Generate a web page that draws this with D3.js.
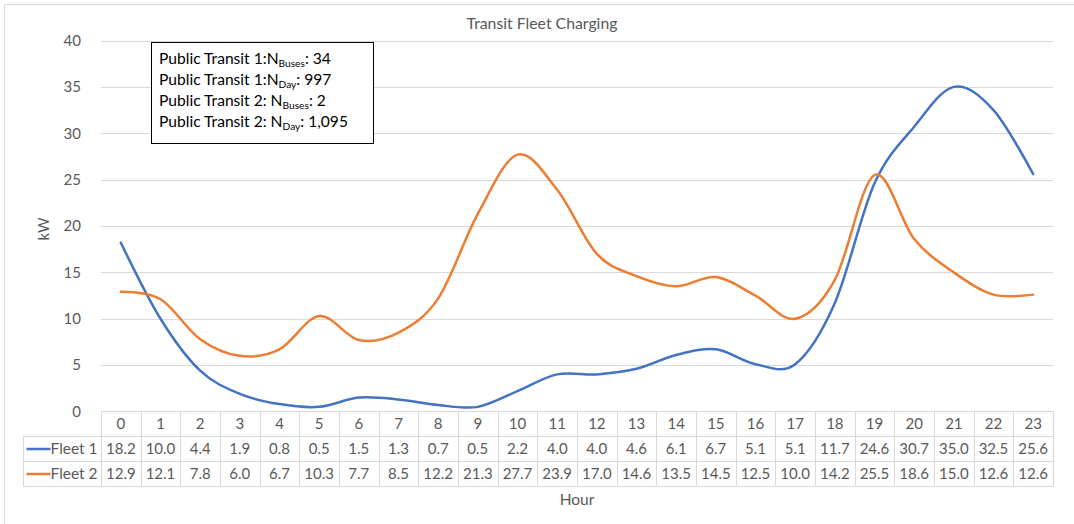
<!DOCTYPE html>
<html>
<head>
<meta charset="utf-8">
<script src="https://cdn.jsdelivr.net/npm/d3@7"></script>
<style>
  html, body { margin: 0; padding: 0; background: #fff; }
  svg text { font-family: Lato, "Open Sans", sans-serif; }
</style>
</head>
<body>
<svg id="chart" width="1074" height="524"></svg>
<script>
// Hourly charging demand (kW) for two transit fleets
const hours = ["0","1","2","3","4","5","6","7","8","9","10","11","12","13","14","15","16","17","18","19","20","21","22","23"];
const fleet1 = [18.2,10.0,4.4,1.9,0.8,0.5,1.5,1.3,0.7,0.5,2.2,4.0,4.0,4.6,6.1,6.7,5.1,5.1,11.7,24.6,30.7,35.0,32.5,25.6];
const fleet2 = [12.9,12.1,7.8,6.0,6.7,10.3,7.7,8.5,12.2,21.3,27.7,23.9,17.0,14.6,13.5,14.5,12.5,10.0,14.2,25.5,18.6,15.0,12.6,12.6];
const seriesNames = ["Fleet 1", "Fleet 2"];
const seriesColors = ["#4472C4", "#ED7D31"];
const yTicks = [0,5,10,15,20,25,30,35,40];

const series = [
  { name: seriesNames[0], values: fleet1, color: seriesColors[0] },
  { name: seriesNames[1], values: fleet2, color: seriesColors[1] }
];

const svg = d3.select("#chart");
const textColor = "#595959";
const gridColor = "#d9d9d9";

// Chart frame
svg.append("rect")
  .attr("x", 4.5).attr("y", 4.5)
  .attr("width", 1080).attr("height", 540)
  .attr("fill", "#fff").attr("stroke", gridColor).attr("stroke-width", 1);

const plot = { left: 101, right: 1053, top: 40.5, bottom: 411.5 };

const x = d3.scaleBand().domain(hours).range([plot.left, plot.right]).paddingInner(0).paddingOuter(0);
const y = d3.scaleLinear().domain([0, 40]).range([plot.bottom, plot.top]);
const cx = h => x(h) + x.bandwidth() / 2;

// Title
svg.append("text")
  .attr("x", 542).attr("y", 29)
  .attr("text-anchor", "middle")
  .attr("font-size", 15.8)
  .attr("fill", textColor)
  .text("Transit Fleet Charging");

// Horizontal gridlines
svg.append("g")
  .selectAll("line")
  .data(yTicks.filter(t => t > 0))
  .join("line")
  .attr("x1", plot.left).attr("x2", plot.right)
  .attr("y1", d => Math.round(y(d)) + 0.5).attr("y2", d => Math.round(y(d)) + 0.5)
  .attr("stroke", gridColor).attr("stroke-width", 1);

// Y axis labels
const yAxis = d3.axisLeft(y).tickValues(yTicks).tickSize(0).tickPadding(0);
const yg = svg.append("g")
  .attr("transform", `translate(${plot.left - 20},0)`)
  .call(yAxis);
yg.select(".domain").remove();
yg.selectAll("text")
  .attr("font-size", 15)
  .attr("font-family", "Lato, sans-serif")
  .attr("fill", textColor);

// Y axis title
svg.append("text")
  .attr("transform", "translate(49,229) rotate(-90)")
  .attr("text-anchor", "middle")
  .attr("font-size", 15)
  .attr("fill", textColor)
  .text("kW");

// Smoothed series lines
const line = d3.line()
  .x((d, i) => cx(hours[i]))
  .y(d => y(d))
  .curve(d3.curveCatmullRom.alpha(0));

svg.append("g")
  .selectAll("path")
  .data(series)
  .join("path")
  .attr("d", d => line(d.values))
  .attr("fill", "none")
  .attr("stroke", d => d.color)
  .attr("stroke-width", 2.5)
  .attr("stroke-linecap", "round")
  .attr("stroke-linejoin", "round");

// Data table beneath the plot
const rowH = 25;
const rowTop = [411.5, 436.5, 461.5];
const legendLeft = 23.5;
const table = svg.append("g");

// Header row: hour categories
table.append("g")
  .selectAll("text")
  .data(hours)
  .join("text")
  .attr("x", d => cx(d))
  .attr("y", rowTop[0] + rowH / 2 + 5)
  .attr("text-anchor", "middle")
  .attr("font-size", 15)
  .attr("fill", textColor)
  .text(d => d);

// Value rows
series.forEach((s, si) => {
  const top = rowTop[si + 1];
  table.append("g")
    .selectAll("text")
    .data(s.values)
    .join("text")
    .attr("x", (d, i) => cx(hours[i]))
    .attr("y", top + rowH / 2 + 5)
    .attr("text-anchor", "middle")
    .attr("font-size", 15)
    .attr("fill", textColor)
    .text(d => d3.format(".1f")(d));

  table.append("line")
    .attr("x1", legendLeft + 3).attr("x2", legendLeft + 27)
    .attr("y1", top + rowH / 2).attr("y2", top + rowH / 2)
    .attr("stroke", s.color).attr("stroke-width", 2.5);

  table.append("text")
    .attr("x", legendLeft + 27)
    .attr("y", top + rowH / 2 + 5)
    .attr("font-size", 15.5)
    .attr("fill", textColor)
    .text(s.name);
});

// Table grid lines
const tableBottom = rowTop[2] + rowH;
const hLines = [
  { x1: plot.left, x2: plot.right, y: rowTop[0] },
  { x1: legendLeft, x2: plot.right, y: rowTop[1] },
  { x1: legendLeft, x2: plot.right, y: rowTop[2] },
  { x1: legendLeft, x2: plot.right, y: tableBottom }
];
table.append("g")
  .selectAll("line")
  .data(hLines)
  .join("line")
  .attr("x1", d => d.x1).attr("x2", d => d.x2)
  .attr("y1", d => d.y).attr("y2", d => d.y)
  .attr("stroke", gridColor).attr("stroke-width", 1);

const colEdges = hours.map(h => x(h)).concat([plot.right]);
table.append("g")
  .selectAll("line")
  .data(colEdges)
  .join("line")
  .attr("x1", d => Math.round(d) + 0.5).attr("x2", d => Math.round(d) + 0.5)
  .attr("y1", rowTop[0]).attr("y2", tableBottom)
  .attr("stroke", gridColor).attr("stroke-width", 1);

table.append("line")
  .attr("x1", legendLeft).attr("x2", legendLeft)
  .attr("y1", rowTop[1]).attr("y2", tableBottom)
  .attr("stroke", gridColor).attr("stroke-width", 1);

// X axis title
svg.append("text")
  .attr("x", 577).attr("y", 505)
  .attr("text-anchor", "middle")
  .attr("font-size", 15.5)
  .attr("fill", textColor)
  .text("Hour");

// Fleet summary box
const notes = [
  { pre: "Public Transit 1:N", sub: "Buses", post: ": 34" },
  { pre: "Public Transit 1:N", sub: "Day", post: ": 997" },
  { pre: "Public Transit 2: N", sub: "Buses", post: ": 2" },
  { pre: "Public Transit 2: N", sub: "Day", post: ": 1,095" }
];
const box = svg.append("g");
box.append("rect")
  .attr("x", 151.5).attr("y", 42.5)
  .attr("width", 222).attr("height", 101)
  .attr("fill", "#fff").attr("stroke", "#000").attr("stroke-width", 1);

box.selectAll("text")
  .data(notes)
  .join("text")
  .attr("x", 159)
  .attr("y", (d, i) => 63.5 + i * 21.3)
  .attr("font-size", 15.6)
  .attr("fill", "#000")
  .each(function(d) {
    const t = d3.select(this);
    t.append("tspan").text(d.pre);
    t.append("tspan").attr("font-size", 10.2).attr("dy", 3).text(d.sub);
    t.append("tspan").attr("dy", -3).text(d.post);
  });
</script>
</body>
</html>
